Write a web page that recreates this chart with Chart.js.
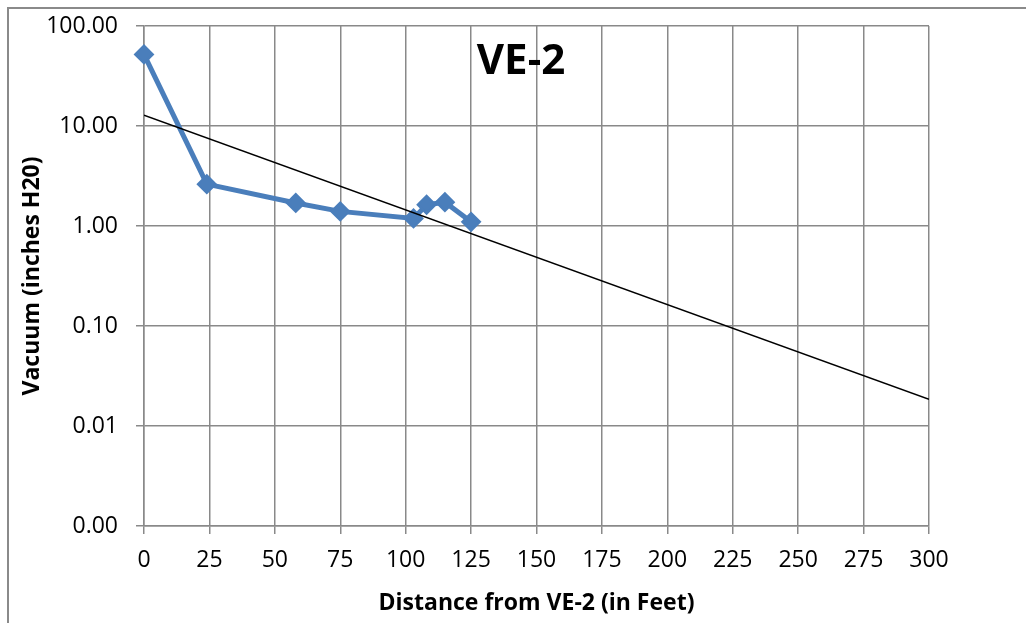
<!DOCTYPE html>
<html>
<head>
<meta charset="utf-8">
<script src="https://cdn.jsdelivr.net/npm/chart.js@4/dist/chart.umd.min.js"></script>
<style>
  html, body { margin: 0; padding: 0; background: #fff; }
  #wrap { width: 1026px; height: 623px; position: relative; }
</style>
</head>
<body>
<div id="wrap"><canvas id="c" width="1026" height="623"></canvas></div>
<script>
const distances = [0, 24, 58, 75, 103, 108, 115, 125];
const vacuum = [52, 2.62, 1.7, 1.4, 1.19, 1.63, 1.73, 1.1];
const trendX = [0, 300];
const trendY = [12.8, 0.0185];
const yTicks = [0.001, 0.01, 0.1, 1, 10, 100];
const chartTitle = 'VE-2';
const xTitle = 'Distance from VE-2 (in Feet)';
const yTitle = 'Vacuum (inches H20)';

const GRID = '#898989';
const FONT = '"Open Sans", sans-serif';

const overlay = {
  id: 'overlay',
  beforeDraw(chart) {
    const ctx = chart.ctx;
    ctx.save();
    ctx.fillStyle = '#fff';
    ctx.fillRect(0, 0, chart.width, chart.height);
    ctx.strokeStyle = '#8a8a8a';
    ctx.lineWidth = 2;
    ctx.beginPath();
    ctx.moveTo(8, 640);
    ctx.lineTo(8, 8);
    ctx.lineTo(1030, 8);
    ctx.stroke();
    ctx.restore();
  },
  afterDraw(chart) {
    const ctx = chart.ctx;
    const a = chart.chartArea;
    ctx.save();
    ctx.fillStyle = '#000';
    ctx.textAlign = 'center';
    ctx.textBaseline = 'middle';
    ctx.font = 'bold 42px ' + FONT;
    ctx.fillText(chartTitle, 521, 62);
    ctx.font = 'bold 23px ' + FONT;
    ctx.fillText(xTitle, (a.left + a.right) / 2, 603);
    ctx.translate(32, (a.top + a.bottom) / 2);
    ctx.rotate(-Math.PI / 2);
    ctx.fillText(yTitle, 0, 0);
    ctx.restore();
  }
};

new Chart(document.getElementById('c'), {
  type: 'line',
  data: {
    datasets: [
      {
        label: 'Vacuum',
        data: distances.map((x, i) => ({ x, y: vacuum[i] })),
        borderColor: '#4A7EBB',
        backgroundColor: '#4A7EBB',
        borderWidth: 5,
        pointStyle: 'rectRot',
        pointRadius: 9,
        pointBorderWidth: 2,
        pointBorderColor: '#4A7EBB',
        pointBackgroundColor: '#4A7EBB',
        tension: 0,
        clip: false,
        order: 1
      },
      {
        label: 'Trend',
        data: trendX.map((x, i) => ({ x, y: trendY[i] })),
        borderColor: '#000',
        borderWidth: 1.5,
        pointRadius: 0,
        tension: 0,
        order: 0
      }
    ]
  },
  options: {
    responsive: false,
    animation: false,
    devicePixelRatio: 1,
    layout: { padding: { top: 26, right: 97, left: 0, bottom: 0 } },
    plugins: { legend: { display: false }, tooltip: { enabled: false }, title: { display: false } },
    scales: {
      x: {
        type: 'linear',
        min: 0,
        max: 300,
        ticks: { stepSize: 25, color: '#000', font: { family: FONT, size: 23 }, padding: 13, maxRotation: 0 },
        grid: { color: GRID, lineWidth: 1.5, tickLength: 8, tickColor: GRID },
        border: { color: GRID, width: 1.5 },
        afterFit(s) { s.height = 97; s.paddingLeft = 0; s.paddingRight = 0; }
      },
      y: {
        type: 'logarithmic',
        min: 0.001,
        max: 100,
        afterBuildTicks(s) { s.ticks = yTicks.map(v => ({ value: v, major: true })); },
        ticks: {
          color: '#000',
          font: { family: FONT, size: 23 },
          padding: 18,
          callback: (v) => Number(v).toFixed(2)
        },
        grid: { color: GRID, lineWidth: 1.5, tickLength: 8, tickColor: GRID },
        border: { color: GRID, width: 1.5 },
        afterFit(s) { s.width = 144; s.paddingTop = 0; s.paddingBottom = 0; }
      }
    }
  },
  plugins: [overlay]
});
</script>
</body>
</html>
